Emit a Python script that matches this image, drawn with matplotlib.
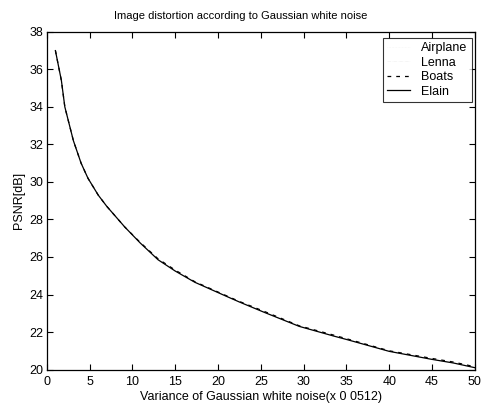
import matplotlib
matplotlib.use("Agg")
import matplotlib.pyplot as plt

plt.rcParams['font.family'] = ['Liberation Sans', 'DejaVu Sans']

# variance steps (x 0.0512) and PSNR
variance = [1, 1.7, 2.1, 3.1, 4.0, 4.8, 6.0, 7.0, 9.1, 10.9, 13.0, 15.0, 17.3, 21.0,
            22.5, 25.4, 29.5, 33.4, 35.2, 40.0, 44.9, 47.5, 50]
airplane = [37.0, 35.4, 34.0, 32.2, 31.0, 30.2, 29.3, 28.7, 27.6, 26.75, 25.85, 25.25,
            24.65, 23.9, 23.6, 23.05, 22.3, 21.8, 21.58, 20.97, 20.55, 20.35, 20.1]
lenna = list(airplane)
boats = [37.0, 35.4, 34.0, 32.2, 31.0, 30.2, 29.3, 28.7, 27.6, 26.78, 25.9, 25.3,
         24.68, 23.93, 23.63, 23.1, 22.33, 21.85, 21.62, 21.0, 20.6, 20.4, 20.15]
elain = list(airplane)

fig = plt.figure(figsize=(4.83, 4.03), dpi=100)
ax = fig.add_axes([0.097, 0.083, 0.886, 0.838])

ax.plot(variance, airplane, color='#eeeeee', lw=0.4, ls=':', label='Airplane')
ax.plot(variance, lenna, color='#eeeeee', lw=0.4, ls='-.', label='Lenna')
ax.plot(variance, boats, color='black', lw=0.9, ls=(0, (3, 4)), label='Boats')
ax.plot(variance, elain, color='black', lw=0.9, ls='-', label='Elain')

ax.set_xlim(0, 50)
ax.set_ylim(20, 38)
ax.set_xticks(range(0, 51, 5))
ax.set_yticks(range(20, 39, 2))
ax.tick_params(direction='in', top=True, right=True, labelsize=9, length=4, width=0.8)
ax.tick_params(axis='x', pad=5)
ax.tick_params(axis='y', pad=2.5)
for s in ax.spines.values():
    s.set_linewidth(0.9)

# title is centred on the figure, not on the axes
ax.set_title('Image distortion according to Gaussian white noise', fontsize=8, pad=9,
             x=0.454)
ax.set_xlabel('Variance of Gaussian white noise(x 0 0512)', fontsize=9, labelpad=1.5)
ax.set_ylabel('PSNR[dB]', fontsize=9, labelpad=3)

leg = ax.legend(loc='upper right', bbox_to_anchor=(0.993, 0.982), fontsize=9,
                frameon=True, fancybox=False, edgecolor='black', borderaxespad=0,
                handlelength=1.8, handletextpad=0.9, labelspacing=0.2, borderpad=0.35)
leg.get_frame().set_linewidth(0.8)

fig.savefig('out.png', dpi=100)
